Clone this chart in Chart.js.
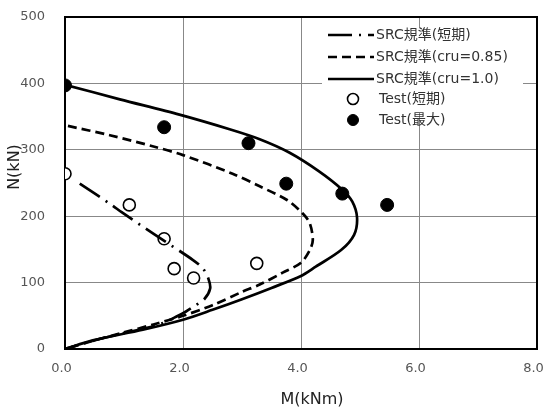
<!DOCTYPE html>
<html lang="ja">
<head>
  <meta charset="UTF-8" />
  <title>N-M 相関図</title>
  <script src="https://cdn.jsdelivr.net/npm/chart.js"></script>
  <style>
    html, body { margin: 0; padding: 0; background: #fff; }
    #wrap { width: 545px; height: 410px; }
  </style>
</head>
<body>
  <div id="wrap"><canvas id="nm" width="545" height="410"></canvas></div>

  <script>
    // SRC規準(短期)
    const shortM = [0.25, 0.79, 0.96, 1.49, 2.17, 2.34, 2.43, 2.46, 2.36, 2.16, 2.0, 1.6, 1.0, 0.5, 0.0];
    const shortN = [249, 217, 206, 174, 134, 121, 106, 91, 75, 63, 54, 37, 24, 13, 0];

    // SRC規準(cru=0.85)
    const c085M = [0.05, 0.76, 1.5, 2.0, 2.84, 3.3, 3.77, 4.03, 4.15, 4.2, 4.15, 4.0, 3.69, 3.3, 3.0, 2.5, 2.0, 1.5, 1.0, 0.5, 0.0];
    const c085N = [336, 322, 305, 292, 264, 245, 224, 204, 189, 164, 149, 130, 115, 97, 86, 66, 50, 37, 25, 13, 0];

    // SRC規準(cru=1.0)
    const c100M = [0.0, 0.93, 1.94, 2.79, 3.3, 3.8, 4.3, 4.7, 4.87, 4.95, 4.9, 4.68, 4.25, 4.0, 3.5, 3.0, 2.5, 2.0, 1.32, 0.47, 0.0];
    const c100N = [398, 376, 353, 331, 316, 296, 268, 240, 222, 198, 172, 149, 124, 110, 92, 75, 59, 44, 29, 13, 0];

    // Test(短期)
    const testShortM = [0.0, 1.09, 1.68, 1.85, 2.18, 3.25];
    const testShortN = [264, 217, 166, 121, 107, 129];

    // Test(最大)
    const testMaxM = [0.0, 1.68, 3.11, 3.75, 4.70, 5.46];
    const testMaxN = [397, 334, 310, 249, 234, 217];

    const xTicks = [0, 2, 4, 6, 8];
    const yTicks = [0, 100, 200, 300, 400, 500];

    const FONT = "'DejaVu Sans', 'Noto Sans CJK JP', sans-serif";

    function pts(ms, ns) {
      return ms.map((m, i) => ({ x: m, y: ns[i] }));
    }

    function noPad(s) {
      s.paddingTop = 0; s.paddingBottom = 0; s.paddingLeft = 0; s.paddingRight = 0;
    }

    const lineBase = {
      showLine: true,
      pointRadius: 0,
      borderColor: '#000',
      borderWidth: 2.7,
      tension: 0.3,
      fill: false
    };

    const datasets = [
      Object.assign({}, lineBase, { label: 'SRC規準(短期)', data: pts(shortM, shortN), borderDash: [24, 7, 2, 7] }),
      Object.assign({}, lineBase, { label: 'SRC規準(cru=0.85)', data: pts(c085M, c085N), borderDash: [9, 5] }),
      Object.assign({}, lineBase, { label: 'SRC規準(cru=1.0)', data: pts(c100M, c100N), borderDash: [] }),
      {
        label: 'Test(短期)', data: pts(testShortM, testShortN), showLine: false,
        pointRadius: 6, pointBorderWidth: 1.6, pointBorderColor: '#000', pointBackgroundColor: '#fff'
      },
      {
        label: 'Test(最大)', data: pts(testMaxM, testMaxN), showLine: false,
        pointRadius: 6.5, pointBorderWidth: 1, pointBorderColor: '#000', pointBackgroundColor: '#000'
      }
    ];

    // 外枠（データの下に描く）
    const frame = {
      id: 'frame',
      beforeDatasetsDraw(chart) {
        const { ctx, chartArea: a } = chart;
        ctx.save();
        ctx.strokeStyle = '#000';
        ctx.lineWidth = 2;
        ctx.strokeRect(a.left, a.top, a.right - a.left, a.bottom - a.top);
        ctx.restore();
      }
    };

    // 凡例（グラフ内右上）と軸タイトル
    const legendBox = {
      id: 'legendBox',
      afterDatasetsDraw(chart) {
        const ctx = chart.ctx;
        ctx.save();
        ctx.fillStyle = '#fff';
        ctx.fillRect(322, 28, 201, 85);
        ctx.font = '14px ' + FONT;
        ctx.textBaseline = 'middle';
        const rows = [35, 57, 79, 99, 120];
        chart.data.datasets.forEach((ds, i) => {
          const y = rows[i];
          if (ds.showLine) {
            ctx.strokeStyle = '#000';
            ctx.lineWidth = ds.borderWidth;
            ctx.setLineDash(ds.borderDash || []);
            ctx.beginPath();
            ctx.moveTo(328, y);
            ctx.lineTo(374, y);
            ctx.stroke();
            ctx.setLineDash([]);
          } else {
            ctx.beginPath();
            ctx.arc(353, y, 5.5, 0, Math.PI * 2);
            ctx.fillStyle = ds.pointBackgroundColor;
            ctx.fill();
            ctx.lineWidth = ds.pointBorderWidth;
            ctx.strokeStyle = '#000';
            ctx.stroke();
          }
          ctx.fillStyle = '#333';
          ctx.fillText(ds.label, ds.showLine ? 376 : 379, y);
        });

        ctx.fillStyle = '#222';
        ctx.font = '16px ' + FONT;
        ctx.textAlign = 'center';
        ctx.fillText('M(kNm)', 312, 400);
        ctx.translate(15, 167);
        ctx.rotate(-Math.PI / 2);
        ctx.fillText('N(kN)', 0, 0);
        ctx.restore();
      }
    };

    new Chart(document.getElementById('nm'), {
      type: 'scatter',
      data: { datasets },
      options: {
        responsive: false,
        animation: false,
        layout: { autoPadding: false, padding: { left: 0, right: 8, top: 17, bottom: 0 } },
        plugins: { legend: { display: false }, tooltip: { enabled: false } },
        scales: {
          x: {
            type: 'linear', min: 0, max: 8,
            afterBuildTicks: s => { s.ticks = xTicks.map(v => ({ value: v })); },
            afterFit: s => { s.height = 61; noPad(s); },
            grid: { color: '#888', lineWidth: 1, drawTicks: false },
            border: { display: false },
            ticks: {
              padding: 12, labelOffset: -3.5, color: '#555', font: { size: 13, family: FONT },
              callback: v => v.toFixed(1)
            }
          },
          y: {
            type: 'linear', min: 0, max: 500,
            afterBuildTicks: s => { s.ticks = yTicks.map(v => ({ value: v })); },
            afterFit: s => { s.width = 65; noPad(s); },
            grid: { color: '#888', lineWidth: 1, drawTicks: false },
            border: { display: false },
            ticks: { padding: 20, color: '#555', font: { size: 13, family: FONT } }
          }
        }
      },
      plugins: [frame, legendBox]
    });
  </script>
</body>
</html>
